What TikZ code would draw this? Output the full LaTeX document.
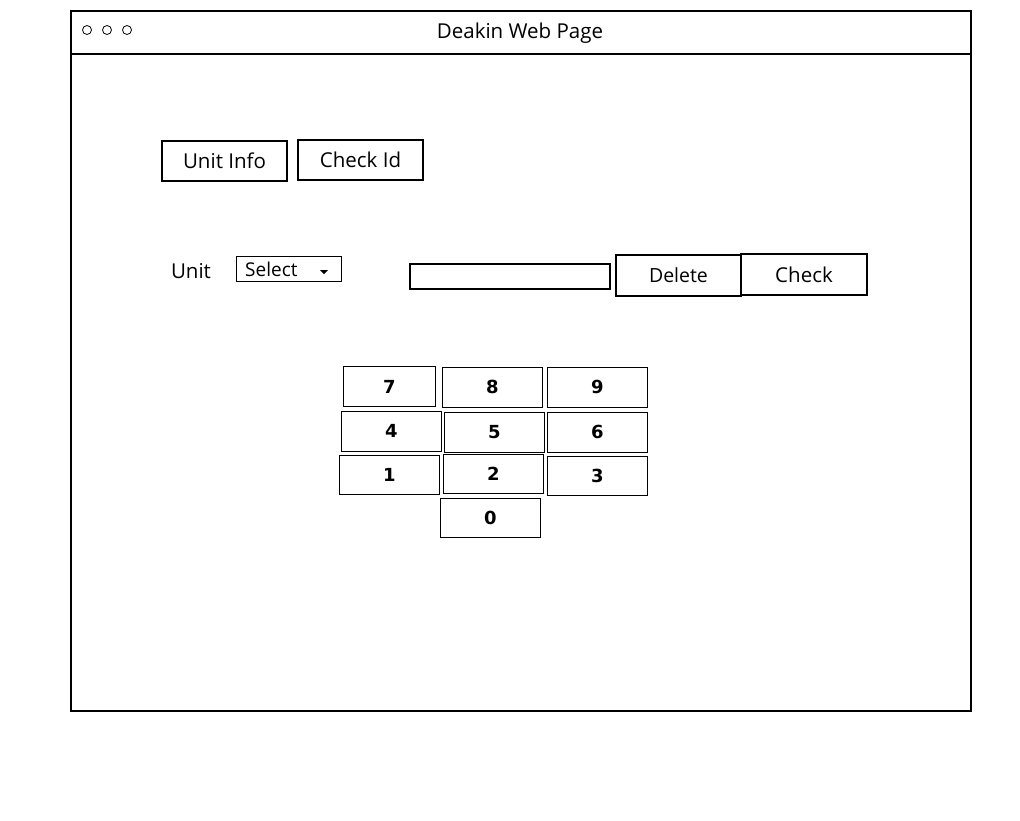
\documentclass[tikz,border=0pt]{standalone}
\usepackage{fontspec}
\setmainfont{Open Sans}
\newfontfamily\digitfont{DejaVu Sans}
\begin{document}
\begin{tikzpicture}[x=1pt,y=-1pt,
  box/.style={draw=black, line width=1.1pt, inner sep=0pt, rectangle},
  btn/.style={box, font=\fontsize{20.5}{22}\selectfont},
  key/.style={draw=black, line width=1pt, inner sep=0pt, minimum width=100pt, minimum height=39.5pt, font=\digitfont\bfseries\fontsize{18}{20}\selectfont},
  dot/.style={draw=black, line width=0.8pt, circle, minimum size=9pt, inner sep=0pt},
  lbl/.style={inner sep=0pt, font=\fontsize{20.5}{22}\selectfont}]
\useasboundingbox (0,0) rectangle (1020,820);
\fill[white] (0,0) rectangle (1020,820);
% browser window
\node[box, minimum width=900pt, minimum height=700pt] (win) at (521,361) {};
\coordinate (tbl) at (71,54);
\coordinate (tbr) at (971,54);
\draw[line width=1.1pt] (tbl) -- (tbr);
\node[dot] (d1) at (87,30) {};
\node[dot] (d2) at (107,30) {};
\node[dot] (d3) at (127,30) {};
\node[lbl] (title) at (520,33) {Deakin Web Page};
% tabs
\node[btn, minimum width=125pt, minimum height=40pt] (unitinfo) at (224.5,161) {Unit Info};
\node[btn, minimum width=125pt, minimum height=40pt] (checkid) at (360.5,160) {Check Id};
% row 2
\node[lbl] (unit) at (191,271) {Unit};
\node[box, line width=1pt, minimum width=105pt, minimum height=25pt] (select) at (288.5,268.5) {};
\node[inner sep=0pt, font=\fontsize{19}{21}\selectfont, anchor=west] (seltxt) at (245,269) {Select};
\fill (320,270) -- (328,270) -- (324,274) -- cycle;
\node[box, minimum width=200pt, minimum height=25pt] (field) at (510,276.5) {};
\node[btn, minimum width=125pt, minimum height=41pt, font=\fontsize{19.5}{21}\selectfont] (delete) at (678.5,275.5) {Delete};
\node[btn, minimum width=126pt, minimum height=41pt] (check) at (804,274.5) {Check};
% keypad
\node[key, minimum width=92.5pt] (k7) at (389.5,386.5) {7};
\node[key] (k8) at (492.3,387.3) {8};
\node[key] (k9) at (597.3,387.3) {9};
\node[key] (k4) at (391.3,431.3) {4};
\node[key] (k5) at (494.3,432.3) {5};
\node[key] (k6) at (597.3,432.3) {6};
\node[key] (k1) at (389.3,475.2) {1};
\node[key] (k2) at (493.3,474.2) {2};
\node[key] (k3) at (597.3,476.2) {3};
\node[key] (k0) at (490.3,518.2) {0};
\end{tikzpicture}
\end{document}
